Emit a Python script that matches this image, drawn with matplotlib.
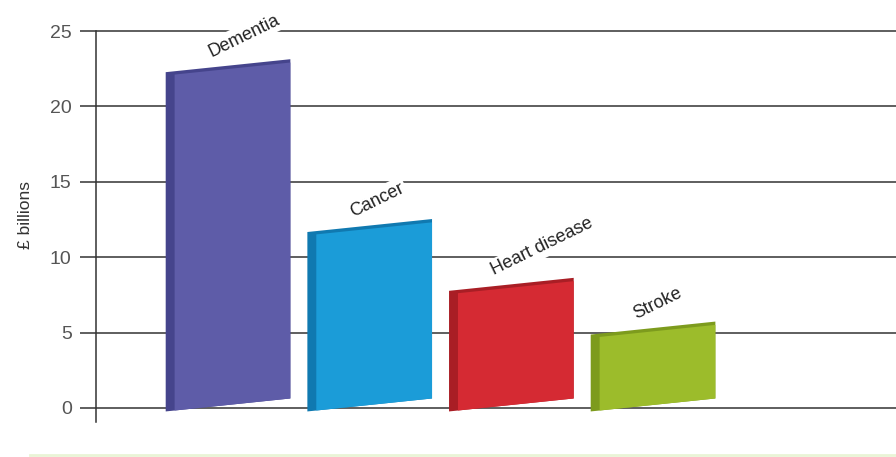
import numpy as np
import matplotlib
matplotlib.use("Agg")
import matplotlib.pyplot as plt
from matplotlib.transforms import Affine2D
from matplotlib.lines import Line2D

plt.rcParams['font.family'] = ['Liberation Sans', 'DejaVu Sans']

# ---- data ----
categories = ["Dementia", "Cancer", "Heart disease", "Stroke"]
values = [22.7, 12.1, 8.2, 5.3]          # £ billions (top-centre of each bar)
yticks = [0, 5, 10, 15, 20, 25]
ylabel = "£ billions"

face_colors = ["#5e5ca8", "#1b9cd8", "#d52a33", "#9cbc2b"]
side_colors = ["#45448c", "#1079b0", "#a91e25", "#7d9b1d"]

# ---- figure ----
W_PX, H_PX = 896, 457
fig = plt.figure(figsize=(W_PX / 100, H_PX / 100), dpi=100)
fig.patch.set_facecolor("white")
ax = fig.add_axes([96 / W_PX, 1 - 422 / H_PX, 800 / W_PX, (422 - 29.5) / H_PX])
ax.set_xlim(-0.932, 4.715)
ax.set_ylim(-0.93, 25.1)

# perspective-like styling
bar_w = 0.88
slant = 0.86          # rise across the bar width (data units)
k = slant / bar_w
base = 0.2            # centre-line base of bar
side_d = 0.063        # dark left side strip width
top_e = 0.22          # dark top strip

x = np.arange(len(categories))
heights = np.array(values) - base
dark = ax.bar(x, heights, width=bar_w, bottom=base, color=side_colors,
              linewidth=0, zorder=3)
front = ax.bar(x + side_d / 2, heights - top_e, width=bar_w - side_d,
               bottom=base, color=face_colors, linewidth=0, zorder=4)
for i, (pd, pf) in enumerate(zip(dark, front)):
    sk = Affine2D().translate(-i, 0).skew(0, np.arctan(k)).translate(i, 0) + ax.transData
    pd.set_transform(sk)
    pf.set_transform(sk)

# category labels
for i, (c, v) in enumerate(zip(categories, values)):
    ax.annotate(c, xy=(i, v), xytext=(-17, 9), textcoords="offset pixels",
                rotation=26, rotation_mode="anchor", ha="left", va="baseline",
                fontsize=13, color="#222222", zorder=6,
                bbox=dict(boxstyle="square,pad=0.15", fc="white", ec="none"))

# axes styling
for s in ["top", "right", "bottom"]:
    ax.spines[s].set_visible(False)
ax.spines["left"].set_color("#333333")
ax.spines["left"].set_linewidth(1.1)
ax.spines["left"].set_bounds(-0.93, 25)
ax.set_xticks([])
ax.set_yticks(yticks)
ax.tick_params(axis="y", length=11.5, width=1.1, color="#333333", pad=6,
               labelsize=14, labelcolor="#555555")
ax.yaxis.grid(True, color="#333333", linewidth=1.1)
ax.set_axisbelow(True)

fig.text(25 / W_PX, 1 - 215 / H_PX, ylabel, rotation=90, ha="center",
         va="center", fontsize=12.5, color="#333333")

# faint bottom band
fig.add_artist(Line2D([30 / W_PX, 1], [1 - 455 / H_PX] * 2, color="#e9f4d6",
                      linewidth=2, transform=fig.transFigure))

fig.savefig("out.png", dpi=100)
